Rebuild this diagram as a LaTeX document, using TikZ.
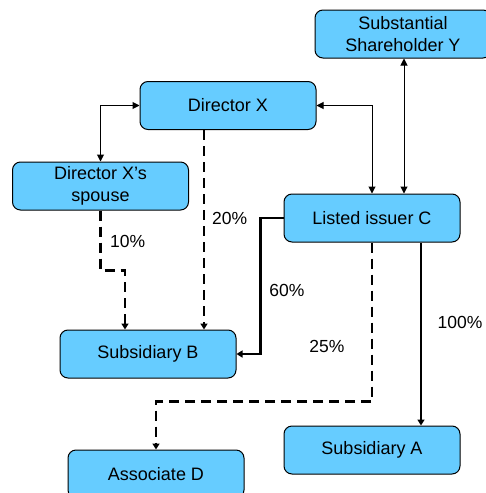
\documentclass[tikz,border=0pt]{standalone}
\usepackage{fontspec}
\setmainfont{Liberation Sans}
\usetikzlibrary{arrows.meta,calc}
\definecolor{boxblue}{RGB}{102,204,255}
\tikzset{
  entity/.style={draw=black, line width=1pt, fill=boxblue, rounded corners=8pt,
    minimum width=176pt, minimum height=48pt, align=center, inner sep=2pt,
    font=\fontsize{18}{22}\selectfont},
  tip/.style={-{Triangle[length=7pt,width=7pt]}},
  link/.style={line width=1pt, {Triangle[length=7pt,width=7pt]}-{Triangle[length=7pt,width=7pt]}},
  stake/.style={line width=2.5pt, -{Triangle[length=6pt,width=7pt]}},
  indirect/.style={stake, dash pattern=on 10pt off 6pt},
  pct/.style={font=\fontsize{17.5}{20}\selectfont, inner sep=0pt}
}
\begin{document}
\begin{tikzpicture}[x=1pt,y=-1pt]
  \useasboundingbox (0,0) rectangle (486,493);
  \clip (0,0) rectangle (486,493);

  % entities
  \node[entity] (Y)  at (403,34)    {Substantial\\Shareholder Y};
  \node[entity] (DX) at (228,105.5) {Director X};
  \node[entity] (SP) at (100.5,186) {Director X’s\\spouse};
  \node[entity] (C)  at (372,218)   {Listed issuer C};
  \node[entity] (B)  at (148,354)   {Subsidiary B};
  \node[entity] (A)  at (372,450)   {Subsidiary A};
  \node[entity] (D)  at (156,474)   {Associate D};

  % relationships
  \draw[link] (DX.west) -| (SP.north);
  \draw[link] (DX.east) -| (C.north);
  \draw[link] ($(Y.south)+(1,0)$) -- ($(C.north)+(32,0)$);

  % shareholdings
  \draw[indirect] ($(DX.south)+(-24,0)$) -- ($(B.north)+(56,0)$);
  \draw[indirect] (SP.south) -- ++(0,60) -| ($(B.north)+(-23,0)$);
  \draw[stake] (C.west) -- ++(-23,0) |- (B.east);
  \draw[indirect] (C.south) -- ++(0,159) -| (D.north);
  \draw[stake] ($(C.south)+(49,0)$) -- ($(A.north)+(49,0)$);

  % percentages
  \node[pct, anchor=west] (p20)  at (212,218) {20\%};
  \node[pct, anchor=west] (p10)  at (110,241) {10\%};
  \node[pct] (p60)  at (287,290) {60\%};
  \node[pct] (p25)  at (327,346) {25\%};
  \node[pct] (p100) at (460,322) {100\%};
\end{tikzpicture}
\end{document}
